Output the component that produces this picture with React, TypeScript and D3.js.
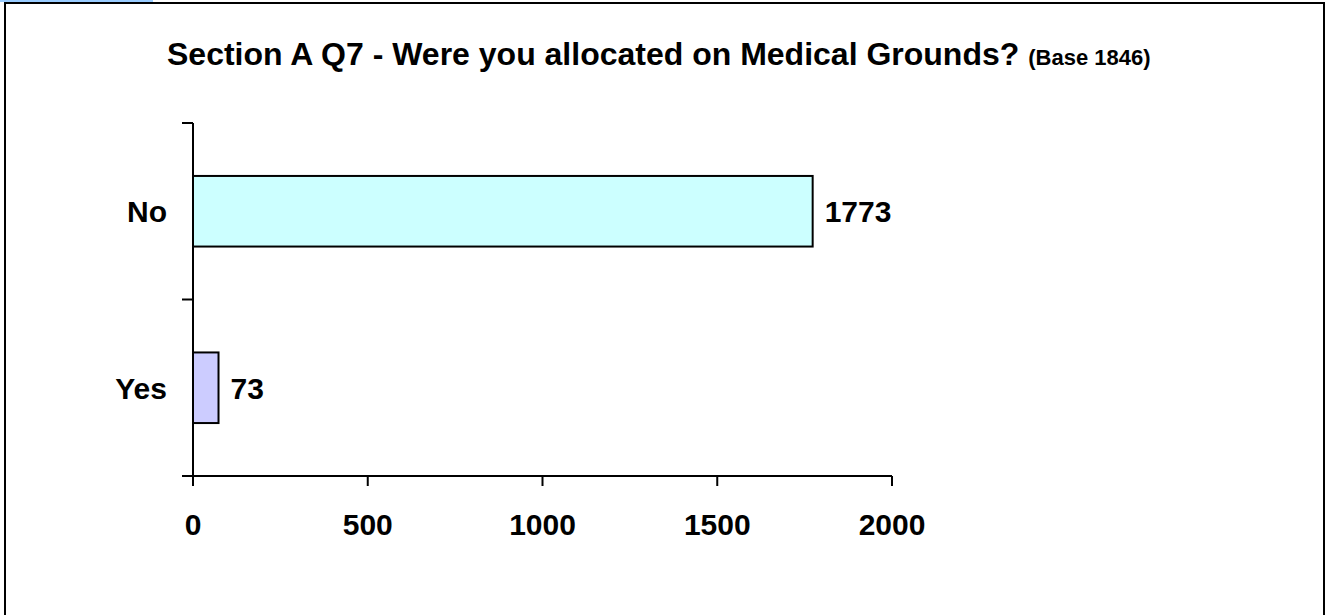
import React from "react";
import * as d3 from "d3";

const categories = ["No", "Yes"];
const values = [1773, 73];
const barColors = ["#CCFFFF", "#CCCCFF"];
const xTicks = [0, 500, 1000, 1500, 2000];
const titleMain = "Section A Q7 - Were you allocated on Medical Grounds?";
const titleBase = "(Base 1846)";

export default function App() {
  const W = 1326;
  const H = 615;
  const x = d3.scaleLinear().domain([0, 2000]).range([193, 892]);
  const y = d3.scaleBand<string>().domain(categories).range([123, 476]).paddingInner(0).paddingOuter(0);
  const bw = y.bandwidth();
  const barH = bw * 0.4;
  const font = "'Liberation Sans', Arial, Helvetica, sans-serif";
  return (
    <svg width={W} height={H} style={{ position: "absolute", left: 0, top: 0, background: "#fff" }} fontFamily={font}>
      <rect x={0} y={0} width={153} height={2} fill="#99CCFF" />
      <rect x={5} y={3} width={1319} height={H + 10} fill="#fff" stroke="#000" strokeWidth={2} />
      <text x={167} y={65} textAnchor="start" fontWeight="bold" fontSize={32}>
        {titleMain}
        <tspan fontSize={22} dx={9}>{titleBase}</tspan>
      </text>
      {categories.map((c, i) => {
        const yc = (y(c) as number) + bw / 2;
        return (
          <g key={c}>
            <rect x={x(0)} y={yc - barH / 2} width={x(values[i]) - x(0)} height={barH} fill={barColors[i]} stroke="#000" strokeWidth={2} />
            <text x={x(values[i]) + 12} y={yc + 11} fontWeight="bold" fontSize={30}>{values[i]}</text>
            <text x={167} y={yc + 11} textAnchor="end" fontWeight="bold" fontSize={30}>{c}</text>
          </g>
        );
      })}
      <line x1={x(0)} x2={x(0)} y1={123} y2={476} stroke="#000" strokeWidth={2} />
      {[...categories.map((c) => y(c) as number), 476].map((t, i) => (
        <line key={i} x1={182} x2={x(0)} y1={t} y2={t} stroke="#000" strokeWidth={2} />
      ))}
      <line x1={x(0)} x2={x(2000)} y1={476} y2={476} stroke="#000" strokeWidth={2} />
      {xTicks.map((t) => (
        <g key={t}>
          <line x1={x(t)} x2={x(t)} y1={476} y2={486} stroke="#000" strokeWidth={2} />
          <text x={x(t)} y={535} textAnchor="middle" fontWeight="bold" fontSize={30}>{t}</text>
        </g>
      ))}
    </svg>
  );
}
